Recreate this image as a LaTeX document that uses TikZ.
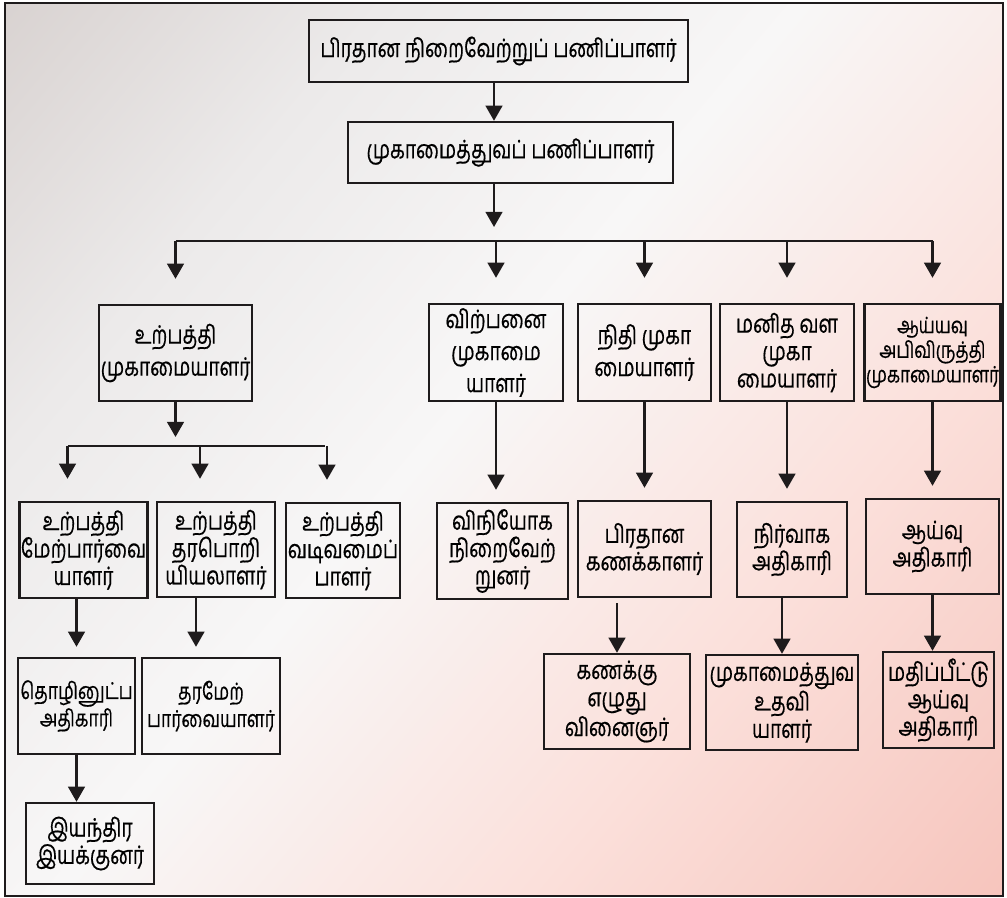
\documentclass[tikz,border=0pt]{standalone}
\usepackage{fontspec}
\newfontfamily\tamilfont[Script=Tamil,FakeStretch=0.76,FakeBold=0.5]{Hind Madurai}
\usetikzlibrary{arrows.meta,positioning}
\definecolor{OrgInk}{HTML}{1E1B1C}
\definecolor{OrgGrey}{HTML}{C6BCB9}
\definecolor{OrgMist}{HTML}{ECEAEA}
\definecolor{OrgWhite}{HTML}{F8F7F7}
\definecolor{OrgBlush}{HTML}{FBE0DB}
\definecolor{OrgPink}{HTML}{F3B0A6}
\newcommand\pxu{0.025cm}
\pgfdeclarehorizontalshading{orgback}{100bp}{color(0bp)=(OrgGrey); color(30bp)=(OrgMist); color(47bp)=(OrgWhite); color(66bp)=(OrgBlush); color(100bp)=(OrgPink)}
\tikzset{
  orgbox/.style={
    draw=OrgInk,
    line width=1.7pt,
    align=center,
    inner sep=1pt,
    font=\tamilfont\fontsize{18}{19.5}\selectfont
  },
  orgwide/.style={orgbox,font=\tamilfont\fontsize{18}{22.8}\selectfont},
  orgtight/.style={orgbox,font=\tamilfont\fontsize{16}{17.5}\selectfont},
  orgsmall/.style={orgbox,font=\tamilfont\fontsize{16.5}{19.5}\selectfont},
  orgarrow/.style={-{Triangle[length=0.38cm,width=0.42cm]},line width=1.6pt,draw=OrgInk},
  orgline/.style={line width=1.6pt,draw=OrgInk}
}
\begin{document}
\begin{tikzpicture}[x=0.025cm,y=-0.025cm]
        \useasboundingbox (0,0) rectangle (1007,898);
        \shade[shading=orgback,shading angle=-40] (5,3) rectangle (1003,896);
        \draw[line width=1.8pt,OrgInk] (5,3) rectangle (1003,896);

        \node[orgbox,minimum width=9.475cm,minimum height=1.55cm] (ceo) at (498.5,51) {பிரதான நிறைவேற்றுப் பணிப்பாளர்};
        \node[orgbox,minimum width=8.125cm,minimum height=1.525cm] (md) at (510.5,152.5) {முகாமைத்துவப் பணிப்பாளர்};

        \node[orgwide,minimum width=3.825cm,minimum height=2.4cm] (prodmgr) at (175.5,353) {உற்பத்தி\\முகாமையாளர்};
        \node[orgwide,minimum width=3.35cm,minimum height=2.425cm] (salesmgr) at (496,352.5) {விற்பனை\\முகாமை\\யாளர்};
        \node[orgwide,minimum width=3.325cm,minimum height=2.425cm] (finmgr) at (644.5,352.5) {நிதி முகா\\மையாளர்};
        \node[orgbox,minimum width=3.35cm,minimum height=2.425cm] (hrmgr) at (787,352.5) {மனித வள\\முகா\\மையாளர்};
        \node[orgtight,minimum width=3.325cm,minimum height=2.425cm] (rdmgr) at (932.5,352.5) {ஆய்யவு\\அபிவிருத்தி\\முகாமையாளர்};

        \node[orgbox,minimum width=3.025cm,minimum height=2.4cm] (prodsup) at (83.5,550) {உற்பத்தி\\மேற்பார்வை\\யாளர்};
        \node[orgbox,minimum width=2.95cm,minimum height=2.375cm] (qeng) at (216,549.5) {உற்பத்தி\\தரபொறி\\யியலாளர்};
        \node[orgbox,minimum width=2.85cm,minimum height=2.375cm] (designer) at (343,550.5) {உற்பத்தி\\வடிவமைப்\\பாளர்};
        \node[orgbox,minimum width=3.275cm,minimum height=2.4cm] (distexec) at (502.5,551) {விநியோக\\நிறைவேற்\\றுனர்};
        \node[orgbox,minimum width=3.325cm,minimum height=2.4cm] (chiefacc) at (644.5,549) {பிரதான\\கணக்காளர்};
        \node[orgbox,minimum width=2.75cm,minimum height=2.375cm] (admin) at (792,549.5) {நிர்வாக\\அதிகாரி};
        \node[orgbox,minimum width=3.325cm,minimum height=2.375cm] (research) at (932.5,546.5) {ஆய்வு\\அதிகாரி};

        \node[orgsmall,minimum width=2.925cm,minimum height=2.4cm] (techoff) at (76.5,706) {தொழினுட்ப\\அதிகாரி};
        \node[orgsmall,minimum width=3.45cm,minimum height=2.4cm] (qsup) at (211,706) {தரமேற்\\பார்வையாளர்};
        \node[orgbox,minimum width=3.65cm,minimum height=2.375cm] (accclerk) at (617,701.5) {கணக்கு\\எழுது\\வினைஞர்};
        \node[orgbox,minimum width=3.8cm,minimum height=2.375cm] (mgmtasst) at (782,702.5) {முகாமைத்துவ\\உதவி\\யாளர்};
        \node[orgbox,minimum width=2.775cm,minimum height=2.4cm] (evalres) at (938.5,700) {மதிப்பீட்டு\\ஆய்வு\\அதிகாரி};
        \node[orgbox,minimum width=3.2cm,minimum height=2.025cm] (operator) at (90,843.5) {இயந்திர\\இயக்குனர்};

        \coordinate (spine) at (494,0);
        \coordinate (mdtip) at (494,227);
        \coordinate (bus) at (0,241);
        \coordinate (subbus) at (0,446);
        \draw[orgarrow] (spine |- ceo.south) -- (spine |- md.north);
        \draw[orgarrow] (spine |- md.south) -- (mdtip);
        \draw[orgline] (prodmgr.north |- bus) -- (rdmgr.north |- bus);
        \foreach \n in {prodmgr,salesmgr,finmgr,hrmgr,rdmgr}
          \draw[orgarrow,shorten >=25*\pxu] (\n.north |- bus) -- (\n.north);

        \draw[orgarrow,shorten >=9*\pxu] (prodmgr.south) -- (prodmgr.south |- subbus);
        \draw[orgline] ([xshift=-16*\pxu]prodsup.north |- subbus) -- ([xshift=-18*\pxu]designer.north |- subbus);
        \foreach \n in {prodsup,qeng,designer}
          \draw[orgarrow,shorten >=22*\pxu] ([xshift=-16*\pxu]\n.north |- subbus) -- ([xshift=-16*\pxu]\n.north);

        \draw[orgarrow,shorten >=12*\pxu] (salesmgr.south) -- (salesmgr.south |- distexec.north);
        \draw[orgarrow,shorten >=12*\pxu] (finmgr.south) -- (finmgr.south |- chiefacc.north);
        \draw[orgarrow,shorten >=12*\pxu] (hrmgr.south) -- (hrmgr.south |- admin.north);
        \draw[orgarrow,shorten >=12*\pxu] (rdmgr.south) -- (rdmgr.south |- research.north);

        \draw[orgarrow,shorten >=10*\pxu] (techoff.north |- prodsup.south) -- (techoff.north);
        \draw[orgarrow,shorten >=10*\pxu] ([xshift=-15*\pxu]qsup.north |- qeng.south) -- ([xshift=-15*\pxu]qsup.north);
        \draw[orgarrow,shorten <=5*\pxu] (accclerk.north |- chiefacc.south) -- (accclerk.north);
        \draw[orgarrow] (mgmtasst.north |- admin.south) -- (mgmtasst.north);
        \draw[orgarrow] (research.south) -- (research.south |- evalres.north);
        \draw[orgarrow] (techoff.south) -- (techoff.south |- operator.north);
      \end{tikzpicture}
\end{document}
